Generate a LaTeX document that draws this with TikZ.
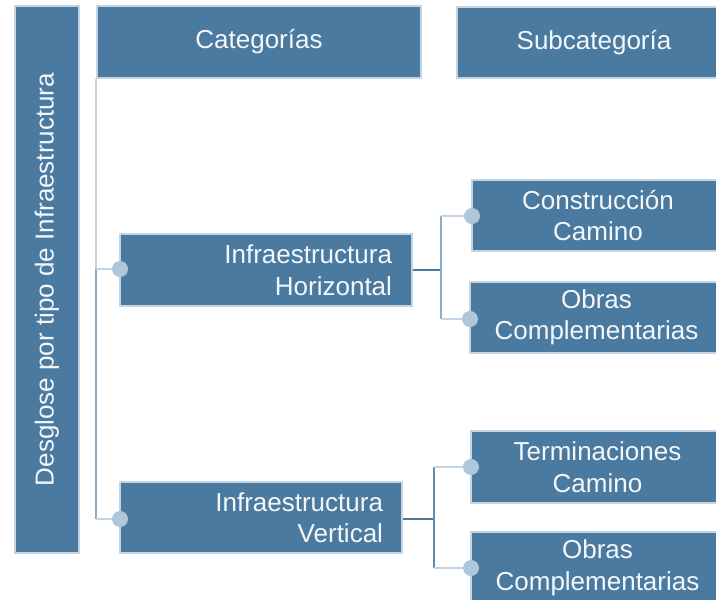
\documentclass[tikz,border=0pt]{standalone}
\usepackage{fontspec}
\setmainfont{Liberation Sans}
\definecolor{boxfill}{HTML}{4A7AA0}
\definecolor{boxline}{HTML}{C3D5E5}
\definecolor{dotfill}{HTML}{AFC7DB}
\definecolor{darkline}{HTML}{4A7AA0}
\definecolor{midline}{HTML}{8AACC8}
\definecolor{lightline}{HTML}{C2D4E4}
\definecolor{txt}{HTML}{F4F7FA}
\begin{document}
\begin{tikzpicture}[x=1pt,y=-1pt,
  box/.style={fill=boxfill,draw=boxline,line width=1.5pt,inner sep=0pt,
    text=txt,font=\fontsize{26}{31.5}\selectfont,align=center},
  dotc/.style={circle,fill=dotfill,inner sep=0pt,minimum size=16pt},
  conn/.style={line width=1.6pt}]
\useasboundingbox (0,0) rectangle (716,600);
\clip (0,0) rectangle (716,600);
% boxes
\node[box,minimum width=64pt,minimum height=547pt] (root) at (47,279.5)
  {\rotatebox{90}{Desglose por tipo de Infraestructura}};
\node[box,minimum width=324pt,minimum height=72pt] (cat) at (259,42) {Categorías};
\node[box,minimum width=274pt,minimum height=71pt] (sub) at (594,42.5) {Subcategoría};
\node[box,minimum width=292pt,minimum height=72pt,text width=252pt,align=right,inner xsep=20pt,inner ysep=0pt] (ih) at (266,270)
  {Infraestructura\\Horizontal};
\node[box,minimum width=282pt,minimum height=71pt,text width=244pt,align=right,inner xsep=19pt,inner ysep=0pt] (iv) at (261,517.5)
  {Infraestructura\\Vertical};
\node[box,minimum width=252pt,minimum height=71pt] (cc) at (598,215.5) {Construcción\\Camino};
\node[box,minimum width=253pt,minimum height=71pt] (oc1) at (596.5,317.5) {Obras\\Complementarias};
\node[box,minimum width=253pt,minimum height=72pt] (tc) at (597.5,467) {Terminaciones\\Camino};
\node[box,minimum width=253pt,minimum height=72pt] (oc2) at (597.5,568) {Obras\\Complementarias};
% dot positions
\coordinate (ihd) at (120,269);
\coordinate (ivd) at (120,519);
\coordinate (ccd) at (472,216);
\coordinate (oc1d) at (470,319);
\coordinate (tcd) at (471,467);
\coordinate (oc2d) at (471,568);
\coordinate (ihj) at (441,270);
\coordinate (ivj) at (434,519);
% root connectors
\draw[conn,lightline] (cat.south west) -- (cat.south west |- ihd);
\draw[conn,midline] (cat.south west |- ihd) -- (cat.south west |- ivd);
\draw[conn,lightline] (cat.south west |- ihd) -- (ihd);
\draw[conn,lightline] (cat.south west |- ivd) -- (ivd);
% IH connectors
\draw[conn,darkline] (ih.east |- ihj) -- (ihj);
\draw[conn,midline] (ihj |- ccd) -- (ihj |- oc1d);
\draw[conn,lightline] (ihj |- ccd) -- (ccd);
\draw[conn,lightline] (ihj |- oc1d) -- (oc1d);
% IV connectors
\draw[conn,darkline] (iv.east |- ivj) -- (ivj);
\draw[conn,darkline!80!lightline] (ivj |- tcd) -- (ivj |- oc2d);
\draw[conn,lightline] (ivj |- tcd) -- (tcd);
\draw[conn,lightline] (ivj |- oc2d) -- (oc2d);
% dots
\foreach \d in {ihd,ivd,ccd,oc1d,tcd,oc2d} \node[dotc] (dot-\d) at (\d) {};
\end{tikzpicture}
\end{document}
